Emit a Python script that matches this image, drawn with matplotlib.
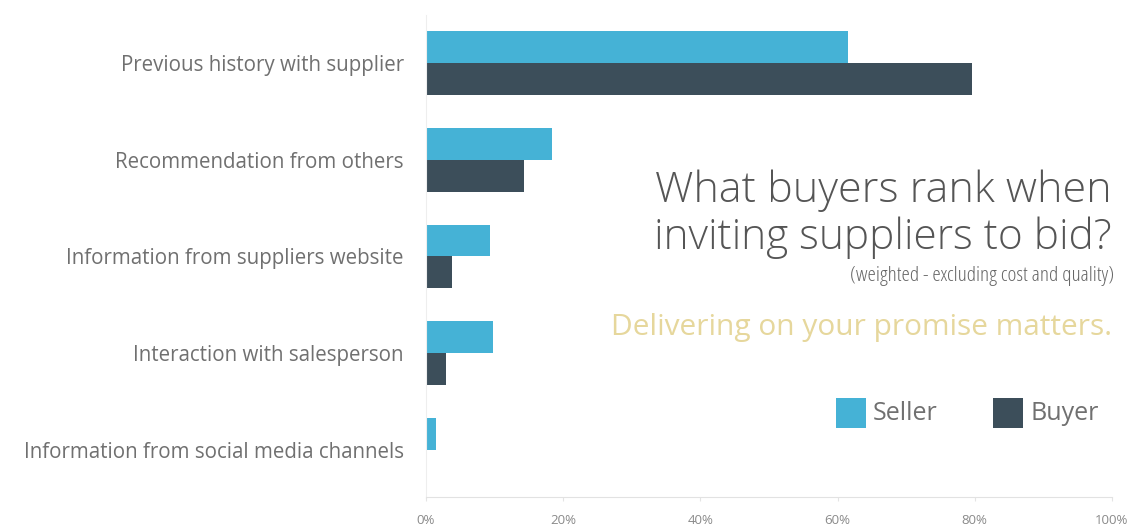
import matplotlib
matplotlib.use("Agg")
import matplotlib.pyplot as plt
import numpy as np
from matplotlib.patches import Rectangle

categories = [
    "Previous history with supplier",
    "Recommendation from others",
    "Information from suppliers website",
    "Interaction with salesperson",
    "Information from social media channels",
]
seller = [61.5, 18.4, 9.3, 9.8, 1.5]
buyer = [79.6, 14.3, 3.8, 2.9, 0.0]
xticks = [0, 20, 40, 60, 80, 100]
xtick_labels = ["0%", "20%", "40%", "60%", "80%", "100%"]

SELLER_C = "#45b2d6"
BUYER_C = "#3c4e5a"
TEXT_C = "#707070"

plt.rcParams["font.family"] = ["Open Sans", "DejaVu Sans"]

fig = plt.figure(figsize=(11.4, 5.27), dpi=100)
ax = fig.add_axes([0.3737, 0.057, 0.6017, 0.9145])

y = np.arange(len(categories))
h = 0.33
ax.barh(y - h / 2, seller, height=h, color=SELLER_C, label="Seller")
ax.barh(y + h / 2, buyer, height=h, color=BUYER_C, label="Buyer")

ax.set_xlim(0, 100)
ax.set_ylim(4.49, -0.5)
ax.set_yticks(y)
ax.set_yticklabels(categories, fontsize=14.8, color=TEXT_C)
ax.set_xticks(xticks)
ax.set_xticklabels(xtick_labels, fontsize=9.5, color="#8a8a8a")
ax.tick_params(axis="y", length=0, pad=16)
ax.tick_params(axis="x", length=3, color="#e4e4e4", pad=9)

for s in ["top", "right"]:
    ax.spines[s].set_visible(False)
ax.spines["left"].set_color("#eeeeee")
ax.spines["bottom"].set_color("#e2e2e2")

# Headline block on the right
fig.text(0.9755, 0.617, "What buyers rank when", ha="right", va="baseline",
         fontsize=31, fontweight="light", color="#555555")
fig.text(0.9755, 0.528, "inviting suppliers to bid?", ha="right", va="baseline",
         fontsize=30.5, fontweight="light", color="#555555")
fig.text(0.977, 0.467, "(weighted - excluding cost and quality)", ha="right",
         va="baseline", fontsize=15.3, color="#666666", fontstretch="condensed")
fig.text(0.9755, 0.365, "Delivering on your promise matters.", ha="right",
         va="baseline", fontsize=21.5, color="#e6d79c")

# Legend
for x0, c, lab in [(0.733, SELLER_C, "Seller"), (0.871, BUYER_C, "Buyer")]:
    fig.patches.append(Rectangle((x0, 0.188), 0.0265, 0.057, transform=fig.transFigure,
                                 facecolor=c, edgecolor="none"))
    fig.text(x0 + 0.033, 0.216, lab, ha="left", va="center", fontsize=18, color=TEXT_C)

fig.savefig("out.png", dpi=100, facecolor="white")
